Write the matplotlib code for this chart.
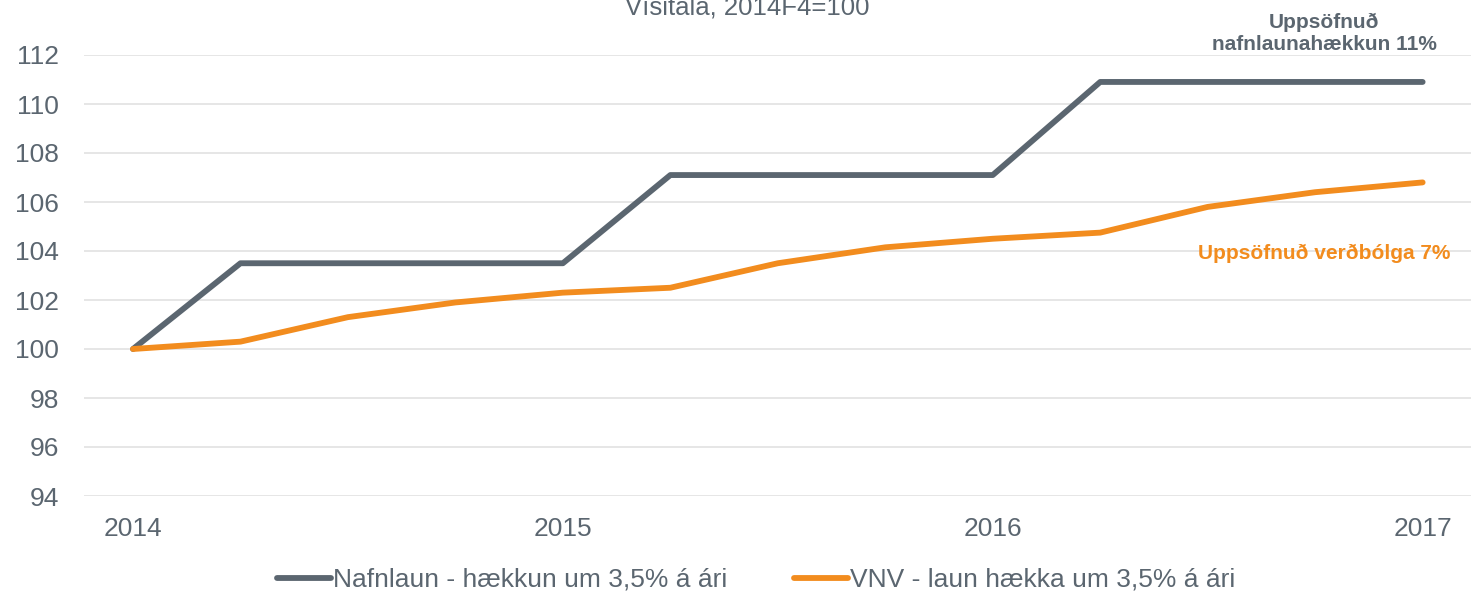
import matplotlib.pyplot as plt
import numpy as np

plt.rcParams["font.family"] = ["Liberation Sans", "DejaVu Sans"]

# quarterly index, 2014F4 = 100
nafnlaun = [100.0, 103.5, 103.5, 103.5, 103.5, 107.1, 107.1, 107.1, 107.1,
            110.9, 110.9, 110.9, 110.9]
vnv = [100.0, 100.3, 101.3, 101.9, 102.3, 102.5, 103.5, 104.15, 104.5,
       104.75, 105.8, 106.4, 106.8]
year_ticks = [0, 4, 8, 12]
year_labels = ["2014", "2015", "2016", "2017"]

GRAY = "#5b6670"
ORANGE = "#f28c1e"
TEXT = "#5b6670"

W, H = 1471, 593
fig = plt.figure(figsize=(W / 100, H / 100), dpi=100)
ax = fig.add_axes([84 / W, 1 - 496 / H, 1 - 84 / W, (496 - 55) / H])

x = np.arange(len(nafnlaun))
ax.plot(x, nafnlaun, color=GRAY, lw=4.2, solid_capstyle="round",
        solid_joinstyle="round", label="Nafnlaun - hækkun um 3,5% á ári", zorder=3)
ax.plot(x, vnv, color=ORANGE, lw=4.2, solid_capstyle="round",
        solid_joinstyle="round", label="VNV - laun hækka um 3,5% á ári", zorder=3)

ax.set_xlim(-0.456, 12.45)
ax.set_ylim(94, 112)
ax.set_yticks(np.arange(94, 113, 2))
ax.set_xticks(year_ticks)
ax.set_xticklabels(year_labels)
ax.tick_params(length=0, labelsize=19, colors=TEXT)
ax.tick_params(axis="x", pad=15)
ax.tick_params(axis="y", pad=18)
ax.grid(axis="y", color="#e4e4e4", lw=1.3)
ax.set_axisbelow(True)
for s in ax.spines.values():
    s.set_visible(False)

fig.text(0.508, 1 - 7 / H, "Vísitala, 2014F4=100", ha="center", va="center",
         fontsize=18.5, color=TEXT)

fig.text(1324 / W, 1 - 33 / H, "Uppsöfnuð\nnafnlaunahækkun 11%", ha="center",
         va="center", fontsize=15, fontweight="bold", color=TEXT, linespacing=1.2)
fig.text(1324 / W, 1 - 253 / H, "Uppsöfnuð verðbólga 7%", ha="center",
         va="center", fontsize=15, fontweight="bold", color=ORANGE)

leg = fig.legend(loc="center", bbox_to_anchor=(0.514, 1 - 580 / H), ncol=2,
                 frameon=False, fontsize=19, handlelength=2.05, handletextpad=0.1,
                 columnspacing=2.5, labelcolor=TEXT)

fig.savefig("out.png", dpi=100)
